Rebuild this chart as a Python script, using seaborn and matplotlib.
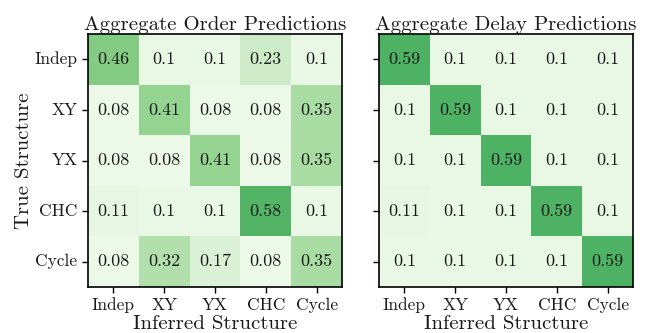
import numpy as np
import pandas as pd
import matplotlib
matplotlib.use("Agg")
import matplotlib.pyplot as plt
import seaborn as sns

structures = ["Indep", "XY", "YX", "CHC", "Cycle"]

order_indep = [0.46, 0.1, 0.1, 0.23, 0.1]
order_xy = [0.08, 0.41, 0.08, 0.08, 0.35]
order_yx = [0.08, 0.08, 0.41, 0.08, 0.35]
order_chc = [0.11, 0.1, 0.1, 0.58, 0.1]
order_cycle = [0.08, 0.32, 0.17, 0.08, 0.35]

delay_indep = [0.59, 0.1, 0.1, 0.1, 0.1]
delay_xy = [0.1, 0.59, 0.1, 0.1, 0.1]
delay_yx = [0.1, 0.1, 0.59, 0.1, 0.1]
delay_chc = [0.11, 0.1, 0.1, 0.59, 0.1]
delay_cycle = [0.1, 0.1, 0.1, 0.1, 0.59]

order_df = pd.DataFrame([order_indep, order_xy, order_yx, order_chc, order_cycle],
                        index=structures, columns=structures)
delay_df = pd.DataFrame([delay_indep, delay_xy, delay_yx, delay_chc, delay_cycle],
                        index=structures, columns=structures)

plt.rcParams["font.family"] = ["cmr10", "DejaVu Serif"]
plt.rcParams["mathtext.fontset"] = "cm"
plt.rcParams["axes.formatter.use_mathtext"] = True

text_color = "#1a1a1a"

fig = plt.figure(figsize=(6.48, 3.33), dpi=100)
ax1 = fig.add_axes([88 / 648, 1 - 287 / 333, 254 / 648, 253 / 333])
ax2 = fig.add_axes([379 / 648, 1 - 287 / 333, 254 / 648, 253 / 333])

for ax, df, title in [(ax1, order_df, "Aggregate Order Predictions"),
                      (ax2, delay_df, "Aggregate Delay Predictions")]:
    sns.heatmap(df, ax=ax, cmap="Greens", vmin=0, vmax=1, cbar=False,
                annot=True, fmt=".2g",
                annot_kws={"fontsize": 13, "color": text_color})
    ax.set_title(title, fontsize=15, pad=3, color=text_color)
    ax.set_xlabel("Inferred Structure", fontsize=15, labelpad=1, color=text_color)
    ax.tick_params(axis="both", labelsize=12.5, length=4, width=1,
                   color="black", labelcolor=text_color)
    ax.set_xticklabels(structures, rotation=0)
    for side in ["left", "right", "top", "bottom"]:
        ax.spines[side].set_visible(True)
        ax.spines[side].set_color("black")
        ax.spines[side].set_linewidth(1.2)

ax1.set_yticklabels(structures, rotation=0)
ax1.set_ylabel("True Structure", fontsize=15, labelpad=1, color=text_color)
ax2.set_yticklabels([])
ax2.set_ylabel("")

fig.savefig("out.png", dpi=100)
